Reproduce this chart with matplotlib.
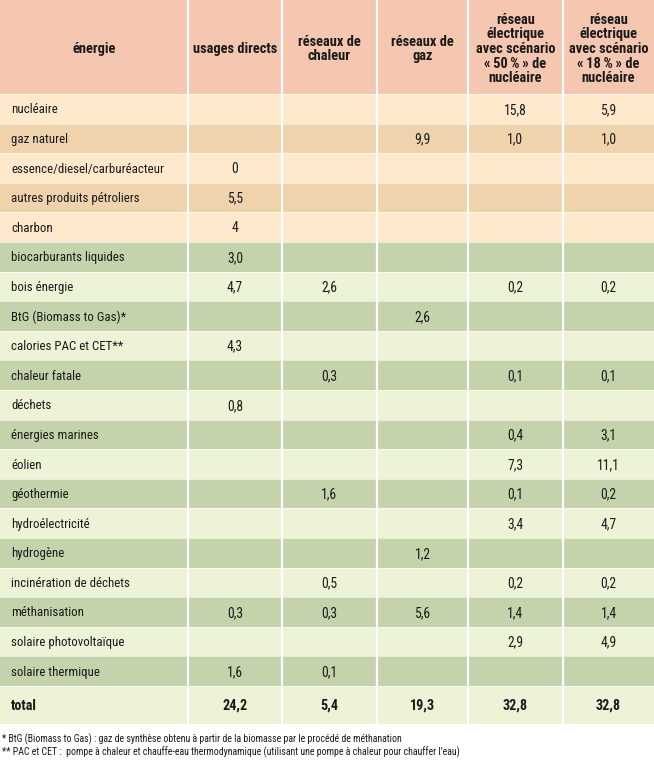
import matplotlib
matplotlib.use('Agg')
import matplotlib.pyplot as plt
import matplotlib.font_manager as fm
from matplotlib.patches import Rectangle

# police la plus étroite disponible
noms = {f.name for f in fm.fontManager.ttflist}
for p in ['Roboto Condensed', 'Liberation Sans Narrow', 'Roboto', 'Liberation Sans']:
    if p in noms:
        POLICE = [p, 'DejaVu Sans']
        break
else:
    POLICE = ['DejaVu Sans']
plt.rcParams['font.family'] = POLICE

entetes = ['énergie', 'usages directs', 'réseaux de\nchaleur', 'réseaux de\ngaz',
           'réseau\nélectrique\navec scénario\n«\u200950\u2009%\u2009» de\nnucléaire',
           'réseau\nélectrique\navec scénario\n«\u200918\u2009%\u2009» de\nnucléaire']

energies = ['nucléaire', 'gaz naturel', 'essence/diesel/carburéacteur',
            'autres produits pétroliers', 'charbon', 'biocarburants liquides',
            'bois énergie', 'BtG (Biomass to Gas)*', 'calories PAC et CET**',
            'chaleur fatale', 'déchets', 'énergies marines', 'éolien', 'géothermie',
            'hydroélectricité', 'hydrogène', 'incinération de déchets',
            'méthanisation', 'solaire photovoltaïque', 'solaire thermique']

usages_directs = ['', '', '0', '5,5', '4', '3,0', '4,7', '', '4,3', '', '0,8',
                  '', '', '', '', '', '', '0,3', '', '1,6']
reseaux_chaleur = ['', '', '', '', '', '', '2,6', '', '', '0,3', '', '', '', '1,6',
                   '', '', '0,5', '0,3', '', '0,1']
reseaux_gaz = ['', '9,9', '', '', '', '', '', '2,6', '', '', '', '', '', '', '',
               '1,2', '', '5,6', '', '']
elec_50 = ['15,8', '1,0', '', '', '', '', '0,2', '', '', '0,1', '', '0,4', '7,3',
           '0,1', '3,4', '', '0,2', '1,4', '2,9', '']
elec_18 = ['5,9', '1,0', '', '', '', '', '0,2', '', '', '0,1', '', '3,1', '11,1',
           '0,2', '4,7', '', '0,2', '1,4', '4,9', '']
total = ['24,2', '5,4', '19,3', '32,8', '32,8']

# 5 premières lignes : fossiles/nucléaire, ensuite renouvelables
n_fossiles = 5

notes = ['* BtG (Biomass to Gas) : gaz de synthèse obtenu à partir de la biomasse par le procédé de méthanation',
         "** PAC et CET :  pompe à chaleur et chauffe-eau thermodynamique (utilisant une pompe à chaleur pour chauffer l\u2019eau)"]

colonnes = [usages_directs, reseaux_chaleur, reseaux_gaz, elec_50, elec_18]

W, H = 654, 768
bords = [0, 188, 282, 377, 468, 563, 654]
haut_entete = 94
h_ligne = 29.6
h_total = 38

c_entete = '#f5c6b0'
c_creme, c_beige = '#fee9cc', '#eed3ad'
c_vert, c_vert_clair = '#c5d3ad', '#ecf3d7'
c_texte = '#1a1a1a'

fig = plt.figure(figsize=(W / 100, H / 100), dpi=100)
ax = fig.add_axes([0, 0, 1, 1])
ax.set_xlim(0, W)
ax.set_ylim(H, 0)
ax.axis('off')

# en-tête
ax.add_patch(Rectangle((0, 0), W, haut_entete, color=c_entete, lw=0))
for j, t in enumerate(entetes):
    xc = (bords[j] + bords[j + 1]) / 2
    ax.text(xc, 49, t, ha='center', va='center', fontsize=10.4, fontweight='bold',
            color=c_texte, linespacing=1.05)

# lignes de données
for i, nom in enumerate(energies):
    y0 = haut_entete + i * h_ligne
    if i < n_fossiles:
        c = c_creme if i % 2 == 0 else c_beige
    else:
        c = c_vert if (i - n_fossiles) % 2 == 0 else c_vert_clair
    ax.add_patch(Rectangle((0, y0), W, h_ligne, color=c, lw=0))
    yc = y0 + h_ligne / 2 + 1
    ax.text(11, yc, nom, ha='left', va='center', fontsize=9.3, color=c_texte)
    for j, col in enumerate(colonnes):
        xc = (bords[j + 1] + bords[j + 2]) / 2
        ax.text(xc, yc, col[i], ha='center', va='center', fontsize=9.8, color=c_texte)
    ax.plot([0, W], [y0, y0], color='white', lw=0.7, alpha=0.6)

# ligne total
y0 = haut_entete + len(energies) * h_ligne
ax.add_patch(Rectangle((0, y0), W, h_total, color=c_vert_clair, lw=0))
ax.plot([0, W], [y0, y0], color='white', lw=0.7, alpha=0.6)
yc = y0 + h_total / 2 + 1
ax.text(11, yc, 'total', ha='left', va='center', fontsize=10.2, fontweight='bold', color=c_texte)
for j, v in enumerate(total):
    xc = (bords[j + 1] + bords[j + 2]) / 2
    ax.text(xc, yc, v, ha='center', va='center', fontsize=10.2, fontweight='bold', color=c_texte)

# séparateurs verticaux blancs
bas = y0 + h_total
for x in bords[1:-1]:
    ax.plot([x, x], [0, bas], color='white', lw=1.6)

# notes
for k, n in enumerate(notes):
    ax.text(2, bas + 15 + k * 13, n, ha='left', va='center', fontsize=7.1, color=c_texte)

fig.savefig('out.png', dpi=100, facecolor='white')
